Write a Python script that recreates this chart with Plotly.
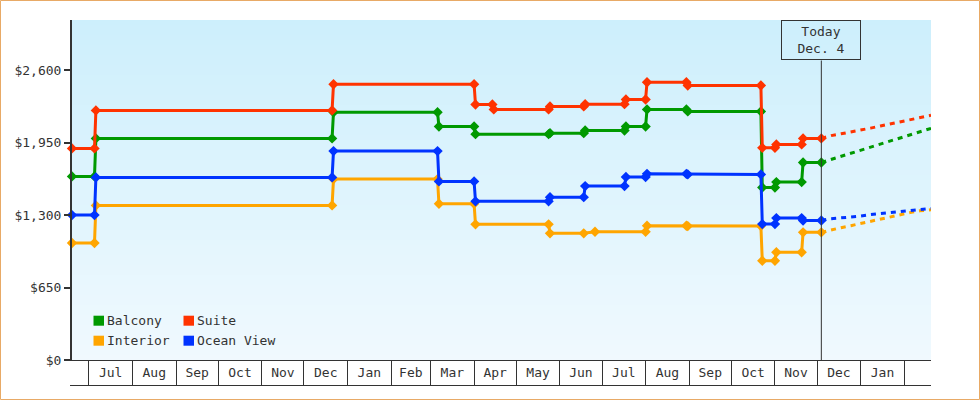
import plotly.graph_objects as go
import pandas as pd

# ---------------- data ----------------
SERIES = ["Balcony", "Suite", "Interior", "Ocean View"]
COLORS = {"Balcony": "#009900", "Suite": "#ff3300", "Interior": "#ffa500", "Ocean View": "#0033ff"}

BALCONY_DATES = ["2012-06-19", "2012-07-05", "2012-07-06", "2012-12-21", "2012-12-22", "2013-03-06",
                 "2013-03-07", "2013-04-01", "2013-04-02", "2013-05-24", "2013-05-25", "2013-06-18",
                 "2013-06-19", "2013-07-17", "2013-07-18", "2013-08-01", "2013-08-02", "2013-08-30",
                 "2013-08-31", "2013-10-22", "2013-10-23", "2013-11-01", "2013-11-02", "2013-11-20",
                 "2013-11-21", "2013-12-04"]
BALCONY_PRICES = [1647, 1647, 1988, 1988, 2223, 2223,
                  2095, 2095, 2026, 2026, 2035, 2035,
                  2059, 2059, 2095, 2095, 2248, 2248,
                  2230, 2230, 1548, 1548, 1596, 1596,
                  1772, 1772]

SUITE_DATES = ["2012-06-19", "2012-07-05", "2012-07-06", "2012-12-21", "2012-12-22", "2013-04-01",
               "2013-04-02", "2013-04-14", "2013-04-15", "2013-05-24", "2013-05-25", "2013-06-18",
               "2013-06-19", "2013-07-17", "2013-07-18", "2013-08-01", "2013-08-02", "2013-08-30",
               "2013-08-31", "2013-10-22", "2013-10-23", "2013-11-01", "2013-11-02", "2013-11-20",
               "2013-11-21", "2013-12-04"]
SUITE_PRICES = [1898, 1898, 2239, 2239, 2474, 2474,
                2292, 2292, 2248, 2248, 2275, 2275,
                2295, 2295, 2337, 2337, 2492, 2492,
                2463, 2463, 1903, 1903, 1934, 1934,
                1988, 1988]

INTERIOR_DATES = ["2012-06-19", "2012-07-05", "2012-07-06", "2012-12-21", "2012-12-22", "2013-03-06",
                  "2013-03-07", "2013-04-01", "2013-04-02", "2013-05-24", "2013-05-25", "2013-06-18",
                  "2013-06-26", "2013-08-01", "2013-08-02", "2013-08-30", "2013-08-31", "2013-10-22",
                  "2013-10-23", "2013-11-01", "2013-11-02", "2013-11-20", "2013-11-21", "2013-12-04"]
INTERIOR_PRICES = [1049, 1049, 1387, 1387, 1623, 1623,
                   1401, 1401, 1217, 1217, 1136, 1136,
                   1150, 1150, 1204, 1204, 1201, 1201,
                   890, 890, 966, 966, 1145, 1145]

OCEAN_DATES = ["2012-06-19", "2012-07-05", "2012-07-06", "2012-12-21", "2012-12-22", "2013-03-06",
               "2013-03-07", "2013-04-01", "2013-04-02", "2013-05-24", "2013-05-25", "2013-06-18",
               "2013-06-19", "2013-07-17", "2013-07-18", "2013-08-01", "2013-08-02", "2013-08-30",
               "2013-08-31", "2013-10-22", "2013-10-23", "2013-11-01", "2013-11-02", "2013-11-20",
               "2013-11-21", "2013-12-04"]
OCEAN_PRICES = [1300, 1300, 1638, 1638, 1874, 1874,
                1602, 1602, 1423, 1423, 1461, 1461,
                1560, 1560, 1641, 1641, 1670, 1670,
                1665, 1665, 1219, 1219, 1273, 1273,
                1252, 1252]

PROJ_DATES = ["2013-12-04", "2013-12-11", "2013-12-18", "2013-12-25", "2014-01-01", "2014-01-08",
              "2014-01-15", "2014-01-22", "2014-01-29", "2014-02-05", "2014-02-12", "2014-02-20"]
BALCONY_PROJ = [1772, 1799, 1826, 1856, 1883, 1910, 1937, 1965, 1992, 2019, 2046, 2078]
SUITE_PROJ = [1988, 2013, 2029, 2044, 2060, 2080, 2099, 2118, 2136, 2155, 2177, 2195]
INTERIOR_PROJ = [1145, 1169, 1187, 1205, 1225, 1243, 1262, 1282, 1302, 1322, 1338, 1347]
OCEAN_PROJ = [1252, 1268, 1275, 1281, 1291, 1304, 1313, 1322, 1332, 1342, 1351, 1360]

MONTH_LABELS = ["Jul", "Aug", "Sep", "Oct", "Nov", "Dec", "Jan", "Feb", "Mar", "Apr", "May",
                "Jun", "Jul", "Aug", "Sep", "Oct", "Nov", "Dec", "Jan"]
Y_TICKS = [0, 650, 1300, 1950, 2600]
Y_TICK_LABELS = ["$0", "$650", "$1,300", "$1,950", "$2,600"]
TODAY = "2013-12-04"
TODAY_TEXT = "Today<br>Dec. 4"
X_RANGE = ["2012-06-19", "2014-02-20"]
Y_RANGE = [0, 3050]

# ---------------- layout helpers ----------------
W, H = 980, 400
ML, MR, MT, MB = 72, 49, 20, 40
PW, PH = W - ML - MR, H - MT - MB
FONT = "DejaVu Sans Mono"
INK = "#333333"


def px_x(x):
    return (x - ML) / PW


def px_y(y):
    return (MT + PH - y) / PH


data = {
    "Balcony": (BALCONY_DATES, BALCONY_PRICES, BALCONY_PROJ),
    "Suite": (SUITE_DATES, SUITE_PRICES, SUITE_PROJ),
    "Interior": (INTERIOR_DATES, INTERIOR_PRICES, INTERIOR_PROJ),
    "Ocean View": (OCEAN_DATES, OCEAN_PRICES, OCEAN_PROJ),
}

fig = go.Figure()
for name in SERIES:
    d, p, proj = data[name]
    fig.add_trace(go.Scatter(
        x=PROJ_DATES, y=proj, mode="lines", showlegend=False, hoverinfo="skip",
        line=dict(color=COLORS[name], width=3, dash="5px,5px"),
    ))
for name in SERIES:
    d, p, proj = data[name]
    fig.add_trace(go.Scatter(
        x=d, y=p, mode="lines+markers", name=name, showlegend=False, cliponaxis=False,
        line=dict(color=COLORS[name], width=3),
        marker=dict(symbol="diamond", size=8, color=COLORS[name]),
    ))

# month boundaries and mid-month label positions
month_starts = pd.date_range("2012-07-01", "2014-02-01", freq="MS")
mids = [month_starts[i] + (month_starts[i + 1] - month_starts[i]) / 2 for i in range(len(month_starts) - 1)]

shapes = []
# gradient background bands
N = 68
top = (205, 239, 252)
bot = (240, 249, 254)
for i in range(N):
    t = i / (N - 1)
    c = tuple(round(top[k] + (bot[k] - top[k]) * t) for k in range(3))
    shapes.append(dict(type="rect", xref="paper", yref="paper", layer="below",
                       x0=0, x1=1, y0=1 - (i + 1) / N, y1=1 - i / N,
                       fillcolor="rgb(%d,%d,%d)" % c, line=dict(width=0)))
# bottom line of the month band
shapes.append(dict(type="line", xref="paper", yref="paper", x0=px_x(70), x1=1,
                   y0=px_y(385.5), y1=px_y(385.5), line=dict(color=INK, width=1)))
# today line
shapes.append(dict(type="line", xref="x", yref="paper", x0=TODAY, x1=TODAY,
                   y0=0, y1=px_y(60.5), line=dict(color=INK, width=1)))
# outer border
shapes.append(dict(type="rect", xref="paper", yref="paper",
                   x0=px_x(0.5), x1=px_x(979.5), y0=px_y(399.5), y1=px_y(0.5),
                   line=dict(color="#e8aa66", width=1), fillcolor="rgba(0,0,0,0)"))

annotations = [dict(x=TODAY, y=1, xref="x", yref="paper", xanchor="center", yanchor="top",
                    text=TODAY_TEXT, showarrow=False, width=78, height=38,
                    bordercolor=INK, borderwidth=1, borderpad=0,
                    font=dict(family=FONT, size=13, color=INK))]

# legend (2 x 2)
legend_pos = {"Balcony": (93.5, 320.7), "Suite": (183.5, 320.7),
              "Interior": (93.5, 340.7), "Ocean View": (183.5, 340.7)}
for name in SERIES:
    lx, ly = legend_pos[name]
    shapes.append(dict(type="rect", xref="paper", yref="paper",
                       x0=px_x(lx), x1=px_x(lx + 10.5), y0=px_y(ly + 5), y1=px_y(ly - 5),
                       fillcolor=COLORS[name], line=dict(width=0)))
    annotations.append(dict(x=px_x(lx + 11), y=px_y(ly), xref="paper", yref="paper",
                            xanchor="left", yanchor="middle", text=name, showarrow=False,
                            font=dict(family=FONT, size=13, color=INK)))

fig.update_layout(
    width=W, height=H, margin=dict(l=ML, r=MR, t=MT, b=MB, pad=0),
    paper_bgcolor="white", plot_bgcolor="#e0f5fe",
    font=dict(family=FONT, size=13, color=INK),
    shapes=shapes, annotations=annotations, showlegend=False,
    xaxis=dict(type="date", range=X_RANGE, showgrid=False, zeroline=False,
               showline=True, linecolor=INK, linewidth=1,
               tickmode="array", tickvals=mids, ticktext=MONTH_LABELS, ticks="",
               tickfont=dict(family=FONT, size=13, color=INK),
               minor=dict(tickmode="array", tickvals=list(month_starts), ticks="outside",
                          ticklen=25, tickwidth=1, tickcolor=INK, showgrid=False)),
    yaxis=dict(range=Y_RANGE, showgrid=False, zeroline=False,
               showline=True, linecolor=INK, linewidth=2,
               tickmode="array", tickvals=Y_TICKS, ticktext=Y_TICK_LABELS,
               ticks="outside", ticklen=6, tickwidth=2, tickcolor=INK,
               tickfont=dict(family=FONT, size=13, color=INK)),
)

fig.write_html("out.html", config={"displayModeBar": False},
               post_script="document.body.style.margin='0';")
